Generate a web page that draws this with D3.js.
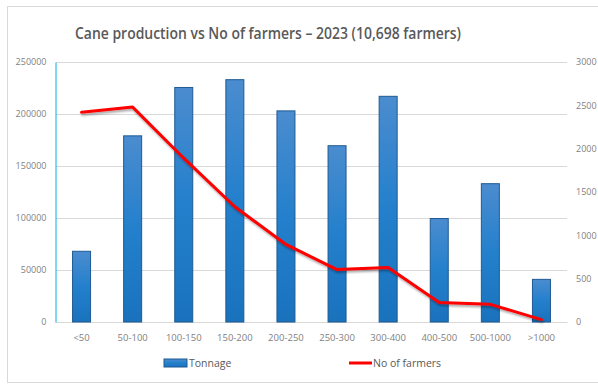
<!DOCTYPE html>
<html>
<head>
<meta charset="utf-8">
<script src="https://cdn.jsdelivr.net/npm/d3@7"></script>
<style>
  body { margin: 0; background: #fff; }
  svg { display: block; font-family: "Open Sans", "Noto Sans", sans-serif; }
</style>
</head>
<body>
<script>
// chart data
var categories = ["<50", "50-100", "100-150", "150-200", "200-250", "250-300", "300-400", "400-500", "500-1000", ">1000"];
var tonnage = [68000, 179000, 225500, 233000, 203000, 169500, 217000, 99500, 133000, 41000];
var farmers = [2420, 2480, 1890, 1330, 895, 605, 628, 224, 204, 28];
var leftTicks = [0, 50000, 100000, 150000, 200000, 250000];
var rightTicks = [0, 500, 1000, 1500, 2000, 2500, 3000];

var width = 598, height = 385;
var margin = {top: 62, right: 31, bottom: 63, left: 56};

var svg = d3.select("body").append("svg")
    .attr("width", width)
    .attr("height", height);

// outer frame
svg.append("rect")
    .attr("x", 7.5).attr("y", 6.5)
    .attr("width", 600).attr("height", 376)
    .attr("fill", "#fff")
    .attr("stroke", "#d9d9d9");

var defs = svg.append("defs");
var grad = defs.append("linearGradient")
    .attr("id", "barGrad")
    .attr("x1", 0).attr("y1", 0).attr("x2", 0).attr("y2", 1);
grad.append("stop").attr("offset", "0%").attr("stop-color", "#4b8ccf");
grad.append("stop").attr("offset", "50%").attr("stop-color", "#2480cc");
grad.append("stop").attr("offset", "100%").attr("stop-color", "#1a72bd");

var shadow = defs.append("filter").attr("id", "lineShadow")
    .attr("x", "-10%").attr("y", "-10%").attr("width", "120%").attr("height", "130%");
shadow.append("feDropShadow")
    .attr("dx", 1).attr("dy", 2).attr("stdDeviation", 1.2)
    .attr("flood-color", "#000").attr("flood-opacity", 0.35);

var x = d3.scaleBand()
    .domain(categories)
    .range([margin.left, width - margin.right]);

var yL = d3.scaleLinear()
    .domain([0, 250000])
    .range([height - margin.bottom, margin.top]);

var yR = d3.scaleLinear()
    .domain([0, 3000])
    .range([height - margin.bottom, margin.top]);

// title
svg.append("text")
    .attr("x", 268)
    .attr("y", 39)
    .attr("text-anchor", "middle")
    .attr("font-size", 17)
    .attr("font-weight", 600)
    .attr("fill", "#595959")
    .attr("textLength", 386)
    .attr("lengthAdjust", "spacingAndGlyphs")
    .text("Cane production vs No of farmers \u2013 2023 (10,698 farmers)");

// gridlines
svg.append("g")
    .selectAll("line")
    .data(leftTicks)
    .enter().append("line")
    .attr("x1", margin.left)
    .attr("x2", width - margin.right)
    .attr("y1", function(d) { return Math.round(yL(d)) + 0.5; })
    .attr("y2", function(d) { return Math.round(yL(d)) + 0.5; })
    .attr("stroke", "#d9d9d9")
    .attr("stroke-width", 1);

// left axis
var axisL = svg.append("g")
    .attr("transform", "translate(" + (margin.left - 0.5) + ",0)")
    .call(d3.axisLeft(yL).tickValues(leftTicks).tickSize(0).tickPadding(9).tickFormat(d3.format("d")));
axisL.select(".domain").attr("stroke", "#00b0f0");
axisL.selectAll("text")
    .attr("font-size", 9)
    .attr("fill", "#7f7f7f")
    .attr("font-family", "'Open Sans', sans-serif");

// right axis
var axisR = svg.append("g")
    .attr("transform", "translate(" + (width - margin.right) + ",0)")
    .call(d3.axisRight(yR).tickValues(rightTicks).tickSize(0).tickPadding(9).tickFormat(d3.format("d")));
axisR.select(".domain").remove();
axisR.selectAll("text")
    .attr("font-size", 9)
    .attr("fill", "#7f7f7f")
    .attr("font-family", "'Open Sans', sans-serif");

// bottom axis
var axisB = svg.append("g")
    .attr("transform", "translate(0," + (height - margin.bottom) + ")")
    .call(d3.axisBottom(x).tickSize(0).tickPadding(12));
axisB.select(".domain").attr("stroke", "#d9d9d9");
axisB.selectAll("text")
    .attr("font-size", 9.5)
    .attr("fill", "#7f7f7f")
    .attr("font-family", "'Open Sans', sans-serif");

// bars
var barW = 18;
svg.selectAll(".bar")
    .data(tonnage)
    .enter().append("rect")
    .attr("class", "bar")
    .attr("x", function(d, i) { return x(categories[i]) + x.bandwidth() / 2 - barW / 2; })
    .attr("y", function(d) { return yL(d); })
    .attr("width", barW)
    .attr("height", function(d) { return yL(0) - yL(d); })
    .attr("fill", "url(#barGrad)")
    .attr("stroke", "#1f5a92")
    .attr("stroke-width", 1);

// farmers line
var line = d3.line()
    .x(function(d, i) { return x(categories[i]) + x.bandwidth() / 2; })
    .y(function(d) { return yR(d); });

svg.append("path")
    .datum(farmers)
    .attr("d", line)
    .attr("fill", "none")
    .attr("stroke", "#ff0000")
    .attr("stroke-width", 3)
    .attr("stroke-linejoin", "round")
    .attr("stroke-linecap", "round")
    .attr("filter", "url(#lineShadow)");

// legend
var legend = svg.append("g").attr("font-size", 10.5).attr("fill", "#595959");
legend.append("rect")
    .attr("x", 164).attr("y", 359)
    .attr("width", 23).attr("height", 8)
    .attr("fill", "url(#barGrad)")
    .attr("stroke", "#1f5a92");
legend.append("text")
    .attr("x", 189).attr("y", 367)
    .text("Tonnage");
legend.append("line")
    .attr("x1", 349).attr("x2", 372)
    .attr("y1", 363).attr("y2", 363)
    .attr("stroke", "#ff0000")
    .attr("stroke-width", 3);
legend.append("text")
    .attr("x", 373).attr("y", 367)
    .text("No of farmers");
</script>
</body>
</html>
